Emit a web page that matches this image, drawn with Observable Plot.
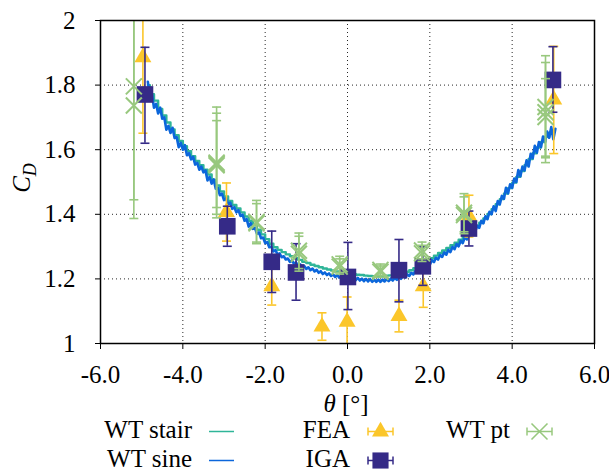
<!DOCTYPE html>
<html><head><meta charset="utf-8">
<script src="https://cdn.jsdelivr.net/npm/d3@7"></script>
<script src="https://cdn.jsdelivr.net/npm/@observablehq/plot@0.6"></script>
<style>
body{margin:0;background:#fff;}
#chart{width:609px;}
svg{display:block;}
</style></head><body><div id="chart"></div>
<script>
// ---- data ----
const stairTheta = [-4.85,-4.8,-4.7,-4.6,-4.5,-4.4,-4.3,-4.2,-4.1,-4.0,-3.9,-3.8,-3.7,-3.6,-3.5,-3.4,-3.3,-3.2,-3.1,-3.0,-2.9,-2.8,-2.7,-2.6,-2.5,-2.4,-2.3,-2.2,-2.1,-2.0,-1.9,-1.8,-1.7,-1.6,-1.5,-1.4,-1.3,-1.2,-1.1,-1.0,-0.9,-0.8,-0.7,-0.6,-0.5,-0.4,-0.3,-0.2,-0.1,0.0,0.1,0.2,0.3,0.4,0.5,0.6,0.7,0.8,0.9,1.0,1.1,1.2,1.3,1.4,1.5,1.6,1.7,1.8,1.9,2.0,2.1,2.2,2.3,2.4,2.5,2.6,2.7,2.8,2.9,3.0,3.1,3.2,3.3,3.4,3.5,3.6,3.7,3.8,3.9,4.0,4.1,4.2,4.3,4.4,4.5,4.6,4.7,4.8,4.9,5.0];
const stairCd = [1.800,1.772,1.752,1.726,1.706,1.684,1.663,1.645,1.627,1.611,1.595,1.580,1.565,1.552,1.538,1.523,1.506,1.489,1.471,1.455,1.441,1.429,1.418,1.406,1.393,1.380,1.367,1.352,1.338,1.323,1.309,1.298,1.290,1.283,1.276,1.270,1.264,1.259,1.253,1.249,1.244,1.240,1.236,1.232,1.229,1.226,1.223,1.221,1.219,1.217,1.215,1.213,1.212,1.210,1.209,1.208,1.209,1.208,1.210,1.211,1.213,1.215,1.218,1.222,1.227,1.233,1.240,1.248,1.256,1.264,1.272,1.280,1.288,1.296,1.304,1.312,1.321,1.331,1.342,1.353,1.363,1.374,1.387,1.401,1.416,1.431,1.447,1.464,1.481,1.498,1.516,1.534,1.552,1.571,1.589,1.607,1.624,1.640,1.653,1.662];

const sineTheta = [-4.85,-4.80,-4.75,-4.70,-4.65,-4.60,-4.55,-4.50,-4.45,-4.40,-4.35,-4.30,-4.25,-4.20,-4.15,-4.10,-4.05,-4.00,-3.95,-3.90,-3.85,-3.80,-3.75,-3.70,-3.65,-3.60,-3.55,-3.50,-3.45,-3.40,-3.35,-3.30,-3.25,-3.20,-3.15,-3.10,-3.05,-3.00,-2.95,-2.90,-2.85,-2.80,-2.75,-2.70,-2.65,-2.60,-2.55,-2.50,-2.45,-2.40,-2.35,-2.30,-2.25,-2.20,-2.15,-2.10,-2.05,-2.00,-1.95,-1.90,-1.85,-1.80,-1.75,-1.70,-1.65,-1.60,-1.55,-1.50,-1.45,-1.40,-1.35,-1.30,-1.25,-1.20,-1.15,-1.10,-1.05,-1.00,-0.95,-0.90,-0.85,-0.80,-0.75,-0.70,-0.65,-0.60,-0.55,-0.50,-0.45,-0.40,-0.35,-0.30,-0.25,-0.20,-0.15,-0.10,-0.05,0.00,0.05,0.10,0.15,0.20,0.25,0.30,0.35,0.40,0.45,0.50,0.55,0.60,0.65,0.70,0.75,0.80,0.85,0.90,0.95,1.00,1.05,1.10,1.15,1.20,1.25,1.30,1.35,1.40,1.45,1.50,1.55,1.60,1.65,1.70,1.75,1.80,1.85,1.90,1.95,2.00,2.05,2.10,2.15,2.20,2.25,2.30,2.35,2.40,2.45,2.50,2.55,2.60,2.65,2.70,2.75,2.80,2.85,2.90,2.95,3.00,3.05,3.10,3.15,3.20,3.25,3.30,3.35,3.40,3.45,3.50,3.55,3.60,3.65,3.70,3.75,3.80,3.85,3.90,3.95,4.00,4.05,4.10,4.15,4.20,4.25,4.30,4.35,4.40,4.45,4.50,4.55,4.60,4.65,4.70,4.75,4.80,4.85,4.90,4.95,5.00,5.05];
const sineCd = [1.810,1.766,1.772,1.730,1.742,1.712,1.730,1.696,1.700,1.662,1.674,1.652,1.668,1.636,1.639,1.608,1.621,1.600,1.614,1.583,1.589,1.570,1.578,1.554,1.559,1.538,1.548,1.530,1.536,1.505,1.516,1.495,1.508,1.479,1.482,1.459,1.464,1.444,1.450,1.431,1.436,1.417,1.422,1.406,1.413,1.395,1.399,1.380,1.385,1.362,1.373,1.355,1.358,1.340,1.344,1.326,1.328,1.311,1.314,1.298,1.300,1.285,1.289,1.276,1.279,1.267,1.270,1.260,1.263,1.253,1.257,1.247,1.251,1.241,1.245,1.236,1.240,1.231,1.236,1.227,1.232,1.223,1.228,1.219,1.224,1.215,1.220,1.212,1.217,1.209,1.214,1.206,1.212,1.204,1.210,1.202,1.208,1.200,1.206,1.198,1.204,1.196,1.203,1.195,1.201,1.193,1.200,1.192,1.199,1.191,1.198,1.191,1.198,1.191,1.198,1.192,1.199,1.193,1.201,1.195,1.203,1.197,1.206,1.200,1.210,1.204,1.214,1.209,1.219,1.214,1.225,1.220,1.233,1.228,1.242,1.236,1.250,1.244,1.258,1.252,1.266,1.260,1.274,1.268,1.282,1.275,1.290,1.283,1.299,1.292,1.308,1.301,1.318,1.311,1.329,1.322,1.341,1.333,1.353,1.345,1.365,1.358,1.380,1.372,1.394,1.385,1.408,1.400,1.425,1.410,1.441,1.431,1.457,1.448,1.482,1.465,1.493,1.482,1.511,1.500,1.537,1.518,1.548,1.536,1.567,1.548,1.587,1.574,1.612,1.591,1.624,1.608,1.641,1.624,1.656,1.637,1.670,1.632,1.665];

const feaTheta = [-4.97,-2.94,-1.84,-0.62,-0.01,1.25,1.84,2.95,5.01];
const feaCd    = [1.886,1.407,1.177,1.052,1.067,1.085,1.177,1.394,1.755];
const feaLo    = [1.651,1.317,1.119,1.010,0.990,1.036,1.112,1.330,1.588];
const feaHi    = [2.120,1.497,1.235,1.095,1.144,1.134,1.242,1.459,1.920];

const igaTheta = [-4.92,-2.92,-1.84,-1.25,0.01,1.25,1.83,2.95,4.99];
const igaCd    = [1.771,1.363,1.253,1.220,1.206,1.227,1.239,1.356,1.816];
const igaLo    = [1.620,1.301,1.158,1.134,1.105,1.129,1.180,1.302,1.716];
const igaHi    = [1.917,1.425,1.348,1.309,1.313,1.322,1.299,1.410,1.919];

const ptTheta = [-5.19,-5.19,-3.18,-3.18,-3.18,-2.21,-2.21,-1.18,-1.18,-0.19,-0.19,0.80,0.80,1.81,1.81,2.83,2.83,4.81,4.81,4.81];
const ptCd    = [1.796,1.737,1.560,1.552,1.556,1.376,1.372,1.287,1.278,1.245,1.238,1.228,1.222,1.288,1.279,1.405,1.398,1.732,1.716,1.701];
const ptLo    = [1.445,1.387,1.389,1.400,1.421,1.314,1.309,1.232,1.224,1.220,1.215,1.210,1.205,1.262,1.254,1.346,1.340,1.575,1.560,1.580];
const ptHi    = [2.150,2.090,1.732,1.713,1.690,1.443,1.433,1.342,1.332,1.270,1.262,1.246,1.240,1.314,1.304,1.464,1.454,1.891,1.870,1.820];

const xTicks = [-6,-4,-2,0,2,4,6];
const yTicks = [1,1.2,1.4,1.6,1.8,2];
const seriesNames = ["WT stair","WT sine","FEA","IGA","WT pt"];

// ---- styling ----
const FONT = "'Liberation Serif', 'Times New Roman', Tinos, 'DejaVu Serif', serif";
const cTeal = "#2fb598", cBlue = "#0b66db", cYellow = "#fbc62a", cPurple = "#352a87", cGreen = "#98c87e";

const stair = stairTheta.map((t,i)=>({t, c:stairCd[i]}));
const sine = sineTheta.map((t,i)=>({t, c:sineCd[i]}));
const fea = feaTheta.map((t,i)=>({t, c:feaCd[i], lo:feaLo[i], hi:feaHi[i]}));
const iga = igaTheta.map((t,i)=>({t, c:igaCd[i], lo:igaLo[i], hi:igaHi[i]}));
const pt = ptTheta.map((t,i)=>({t, c:ptCd[i], lo:ptLo[i], hi:ptHi[i]}));

const capSym = {draw(ctx, size){const r=Math.sqrt(size/Math.PI); ctx.moveTo(-r,0); ctx.lineTo(r,0);}};
const timesSym = {draw(ctx, size){const r=Math.sqrt(size/Math.PI); ctx.moveTo(-r,-r); ctx.lineTo(r,r); ctx.moveTo(-r,r); ctx.lineTo(r,-r);}};
const inRange = v => v >= 1 && v <= 2;

function errMarks(data, color){
  const lo = data.filter(d=>inRange(d.lo)), hi = data.filter(d=>inRange(d.hi));
  return [
    Plot.ruleX(data, {x:"t", y1:d=>Math.max(1,d.lo), y2:d=>Math.min(2,d.hi), stroke:color, strokeWidth:1.6}),
    Plot.dot(lo, {x:"t", y:"lo", symbol:capSym, r:4.5, stroke:color, strokeWidth:1.6, fill:"none"}),
    Plot.dot(hi, {x:"t", y:"hi", symbol:capSym, r:4.5, stroke:color, strokeWidth:1.6, fill:"none"})
  ];
}

const plot = Plot.plot({
  width:609, height:415,
  marginLeft:100, marginRight:15, marginTop:20, marginBottom:72,
  style:{fontFamily:FONT, fontSize:"25px", background:"#fff", color:"#000", overflow:"visible"},
  x:{domain:[-6,6]}, y:{domain:[1,2]},
  marks:[
    Plot.gridX(xTicks.slice(1,-1), {stroke:"#000", strokeOpacity:0.85, strokeDasharray:"1,3"}),
    Plot.gridY(yTicks.slice(1,-1), {stroke:"#000", strokeOpacity:0.85, strokeDasharray:"1,3"}),
    Plot.line(stair, {x:"t", y:"c", stroke:cTeal, strokeWidth:2.4, curve:"step-after"}),
    Plot.line(sine, {x:"t", y:"c", stroke:cBlue, strokeWidth:2.6}),
    ...errMarks(fea, cYellow),
    Plot.dot(fea.filter(d=>inRange(d.c)), {x:"t", y:"c", symbol:"triangle", r:6.3, fill:cYellow, stroke:"none"}),
    ...errMarks(iga, cPurple),
    Plot.dot(iga, {x:"t", y:"c", symbol:"square", r:9.4, fill:cPurple, stroke:"none"}),
    ...errMarks(pt, cGreen),
    Plot.dot(pt, {x:"t", y:"c", symbol:timesSym, r:8, stroke:cGreen, strokeWidth:2, fill:"none"}),
    Plot.frame({stroke:"#000", strokeWidth:1.5}),
    Plot.axisX({ticks:xTicks, tickSize:6, tickPadding:16, tickFormat:d=>d.toFixed(1), label:null, fontSize:25, fontFamily:FONT}),
    Plot.axisY({ticks:yTicks, tickSize:5, tickPadding:20, tickFormat:d=>String(+d.toFixed(1)), label:null, fontSize:25, fontFamily:FONT})
  ]
});

const svg = d3.select(plot);
svg.selectAll("text").attr("font-family", FONT).style("font-family", FONT);
// axis titles
const xl = svg.append("text").attr("x",346).attr("y",412).attr("text-anchor","middle").attr("font-size",25).attr("fill","#000").style("font-family",FONT);
xl.append("tspan").attr("font-style","italic").text("θ");
xl.append("tspan").text(" [°]");
const yl = svg.append("text").attr("transform","translate(30,178) rotate(-90)").attr("text-anchor","middle").attr("font-size",25).attr("fill","#000").style("font-family",FONT);
yl.append("tspan").attr("font-style","italic").text("C");
yl.append("tspan").attr("font-style","italic").attr("font-size",18).attr("dy",6).text("D");

document.getElementById("chart").appendChild(plot);

// ---- legend below ----
const leg = d3.create("svg").attr("width",609).attr("height",56);
const lt = (x,y,s)=>leg.append("text").attr("x",x).attr("y",y).attr("text-anchor","end").attr("font-size",25).attr("fill","#000").style("font-family",FONT).text(s);
lt(192,23,seriesNames[0]);
leg.append("line").attr("x1",209).attr("x2",234).attr("y1",16.5).attr("y2",16.5).attr("stroke",cTeal).attr("stroke-width",1.5);
lt(192,52,seriesNames[1]);
leg.append("line").attr("x1",209).attr("x2",234).attr("y1",45.5).attr("y2",45.5).attr("stroke",cBlue).attr("stroke-width",1.5);
function legErr(cx, cy, color){
  leg.append("line").attr("x1",cx-12.5).attr("x2",cx+12.5).attr("y1",cy).attr("y2",cy).attr("stroke",color).attr("stroke-width",1.5);
  leg.append("line").attr("x1",cx-12.5).attr("x2",cx-12.5).attr("y1",cy-4).attr("y2",cy+4).attr("stroke",color).attr("stroke-width",1.5);
  leg.append("line").attr("x1",cx+12.5).attr("x2",cx+12.5).attr("y1",cy-4).attr("y2",cy+4).attr("stroke",color).attr("stroke-width",1.5);
}
lt(350,23,seriesNames[2]);
legErr(380.5,16.5,cYellow);
leg.append("path").attr("d",d3.symbol(d3.symbolTriangle,125)()).attr("transform","translate(380.5,16.5)").attr("fill",cYellow);
lt(350,52,seriesNames[3]);
legErr(380.5,45.5,cPurple);
leg.append("path").attr("d",d3.symbol(d3.symbolSquare,260)()).attr("transform","translate(380.5,45.5)").attr("fill",cPurple);
lt(510,23,seriesNames[4]);
legErr(539.5,16.5,cGreen);
leg.append("path").attr("d","M-8,-8L8,8M-8,8L8,-8").attr("transform","translate(539.5,16.5)").attr("fill","none").attr("stroke",cGreen).attr("stroke-width",1.6);
document.getElementById("chart").appendChild(leg.node());
</script>
</body></html>
